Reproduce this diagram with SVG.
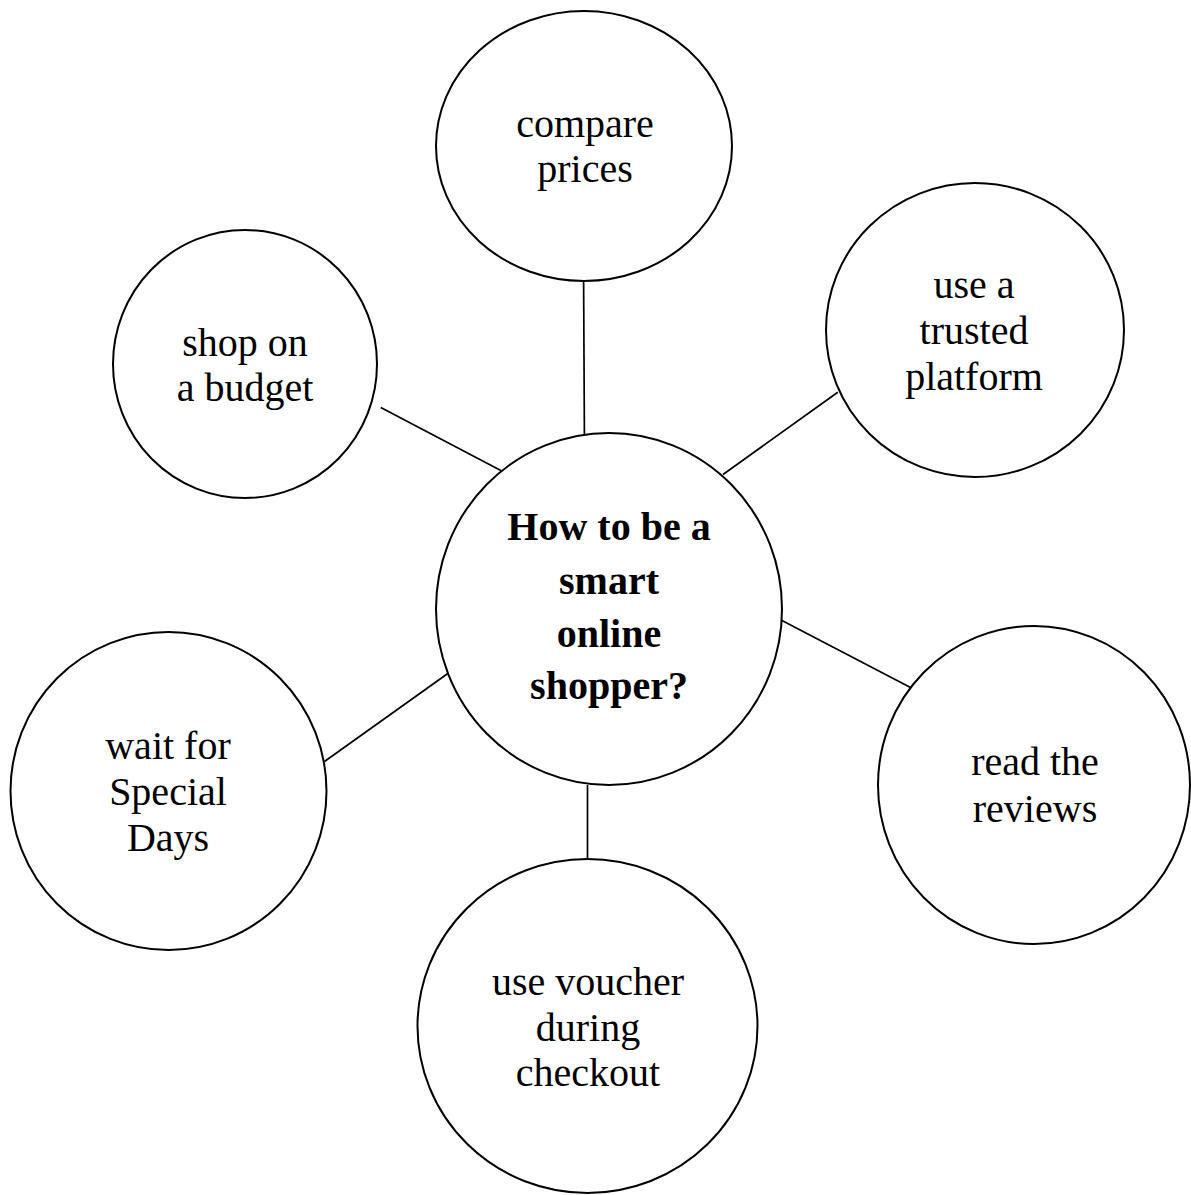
<svg xmlns="http://www.w3.org/2000/svg" width="1191" height="1195" viewBox="0 0 1191 1195">
  <style>
    .node { fill: #ffffff; stroke: #000000; stroke-width: 2; }
    .edge { stroke: #000000; stroke-width: 1.7; fill: none; }
    .label { font-family: "Liberation Serif", "Times New Roman", serif; font-size: 40px; fill: #000000; text-anchor: middle; }
    .title { font-family: "Liberation Serif", "Times New Roman", serif; font-size: 40px; font-weight: bold; fill: #000000; text-anchor: middle; }
  </style>
  <rect x="0" y="0" width="1191" height="1195" fill="#ffffff"/>
  <g id="connectors">
    <line class="edge" x1="583.6" y1="280.5" x2="584.4" y2="434"/>
    <line class="edge" x1="380.8" y1="407.6" x2="501.3" y2="470.7"/>
    <line class="edge" x1="837.8" y1="392.3" x2="723" y2="474.5"/>
    <line class="edge" x1="324.5" y1="761.5" x2="447.8" y2="673.5"/>
    <line class="edge" x1="781" y1="620" x2="910.5" y2="687.6"/>
    <line class="edge" x1="587.5" y1="785" x2="587.5" y2="859"/>
  </g>
  <g id="center">
    <ellipse class="node" cx="609" cy="609" rx="173" ry="176"/>
    <text class="title" x="609" y="540">How to be a</text>
    <text class="title" x="609" y="594">smart</text>
    <text class="title" x="609" y="647">online</text>
    <text class="title" x="609" y="699">shopper?</text>
  </g>
  <g id="compare-prices">
    <ellipse class="node" cx="584" cy="146" rx="148" ry="135"/>
    <text class="label" x="585" y="137">compare</text>
    <text class="label" x="585" y="182">prices</text>
  </g>
  <g id="trusted-platform">
    <ellipse class="node" cx="975" cy="330" rx="149" ry="147"/>
    <text class="label" x="974" y="298">use a</text>
    <text class="label" x="974" y="344">trusted</text>
    <text class="label" x="974" y="390">platform</text>
  </g>
  <g id="shop-budget">
    <ellipse class="node" cx="245" cy="364" rx="132" ry="134"/>
    <text class="label" x="245" y="356">shop on</text>
    <text class="label" x="245" y="401">a budget</text>
  </g>
  <g id="special-days">
    <ellipse class="node" cx="168.5" cy="791" rx="158" ry="159"/>
    <text class="label" x="168" y="759">wait for</text>
    <text class="label" x="168" y="805">Special</text>
    <text class="label" x="168" y="851">Days</text>
  </g>
  <g id="read-reviews">
    <ellipse class="node" cx="1034" cy="785" rx="156" ry="159"/>
    <text class="label" x="1035" y="775">read the</text>
    <text class="label" x="1035" y="822">reviews</text>
  </g>
  <g id="use-voucher">
    <ellipse class="node" cx="587.5" cy="1026" rx="170" ry="167"/>
    <text class="label" x="588" y="995">use voucher</text>
    <text class="label" x="588" y="1041">during</text>
    <text class="label" x="588" y="1086">checkout</text>
  </g>
</svg>
